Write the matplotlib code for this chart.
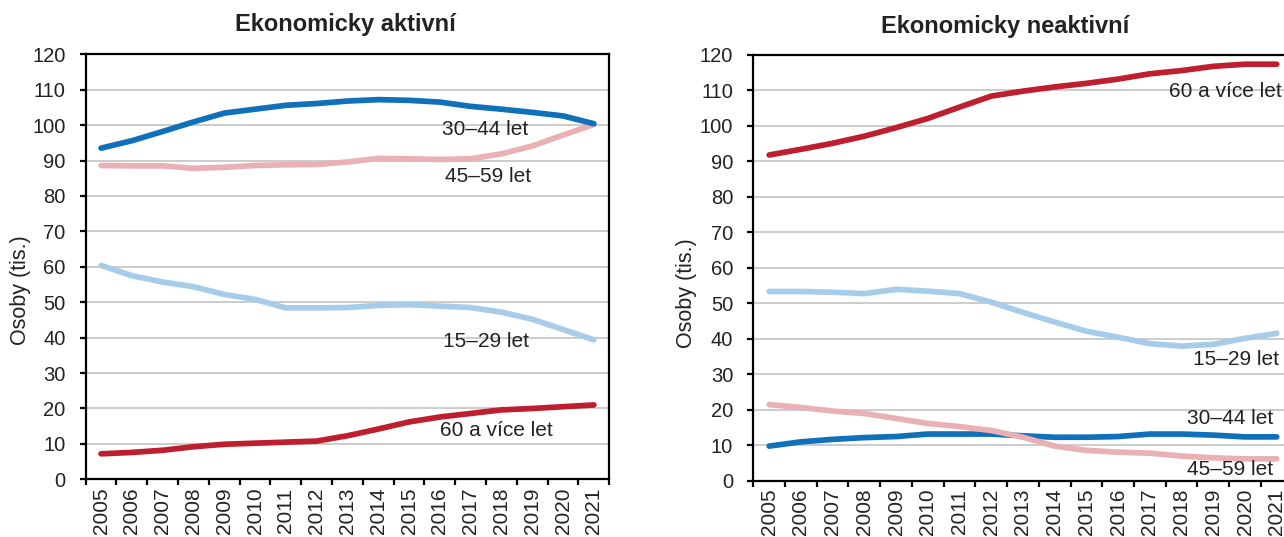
import numpy as np
import matplotlib
matplotlib.use('Agg')
import matplotlib.pyplot as plt

plt.rcParams['font.family'] = ['Liberation Sans', 'DejaVu Sans']

# Data (tis. osob)
years = [str(y) for y in range(2005, 2022)]

# Ekonomicky aktivni
act_15_29 = [60.4, 57.5, 55.7, 54.4, 52.2, 50.8, 48.4, 48.4, 48.5, 49.1, 49.3, 48.9, 48.5, 47.2, 45.2, 42.3, 39.4]
act_30_44 = [93.5, 95.6, 98.2, 100.9, 103.4, 104.5, 105.6, 106.1, 106.8, 107.2, 107.0, 106.5, 105.3, 104.5, 103.6, 102.6, 100.4]
act_45_59 = [88.6, 88.5, 88.5, 87.8, 88.1, 88.6, 88.8, 88.9, 89.6, 90.6, 90.5, 90.3, 90.5, 91.9, 94.1, 97.2, 100.2]
act_60 = [7.2, 7.6, 8.2, 9.2, 9.9, 10.2, 10.5, 10.8, 12.3, 14.2, 16.2, 17.6, 18.6, 19.6, 20.0, 20.5, 21.0]

# Ekonomicky neaktivni
ina_15_29 = [53.3, 53.3, 53.1, 52.7, 53.9, 53.4, 52.7, 50.3, 47.4, 44.7, 42.1, 40.4, 38.6, 37.9, 38.4, 40.1, 41.5]
ina_30_44 = [9.7, 10.9, 11.6, 12.1, 12.4, 13.1, 13.1, 13.1, 12.6, 12.2, 12.2, 12.4, 13.1, 13.1, 12.8, 12.3, 12.3]
ina_45_59 = [21.4, 20.6, 19.6, 18.9, 17.5, 16.1, 15.2, 14.1, 12.2, 9.7, 8.5, 8.0, 7.7, 6.9, 6.4, 6.1, 6.1]
ina_60 = [91.8, 93.4, 95.1, 97.1, 99.5, 102.1, 105.3, 108.4, 109.8, 111.0, 112.0, 113.2, 114.7, 115.6, 116.8, 117.4, 117.4]

c_dark_blue = '#1170BA'
c_light_blue = '#A7CCE9'
c_pink = '#E9B1B4'
c_red = '#BE1E2D'
txt = '#222222'

fig = plt.figure(figsize=(12.84, 5.37), dpi=100)
ax1 = fig.add_axes([0.0667, 0.1074, 0.4078, 0.7915])
ax2 = fig.add_axes([0.5867, 0.1052, 0.4200, 0.7924])

x = np.arange(len(years))


def style_axis(ax):
    ax.set_xlim(-0.5, len(years) - 0.5)
    ax.set_ylim(0, 120)
    ax.set_yticks(np.arange(0, 121, 10))
    ax.yaxis.grid(True, color='#C8C8C8', linewidth=1.3)
    ax.set_axisbelow(True)
    ax.set_xticks(x)
    ax.set_xticklabels(years, rotation=90, fontsize=15, color=txt)
    # tick marks sit between the years
    ax.set_xticks(np.arange(-0.5, len(years), 1), minor=True)
    ax.tick_params(axis='x', which='major', length=0, pad=6)
    ax.tick_params(axis='x', which='minor', length=4.5, width=1.6, direction='out')
    ax.tick_params(axis='y', length=4.5, width=1.6, direction='out', pad=10, labelsize=14.5, labelcolor=txt)
    for s in ax.spines.values():
        s.set_linewidth(1.6)
        s.set_color('black')
    ax.set_ylabel('Osoby (tis.)', fontsize=15.5, color=txt)


lw = 4.1

# Left chart - ekonomicky aktivni
ax1.plot(x, act_45_59, color=c_pink, lw=lw, solid_capstyle='round')
ax1.plot(x, act_15_29, color=c_light_blue, lw=lw, solid_capstyle='round')
ax1.plot(x, act_60, color=c_red, lw=lw, solid_capstyle='round')
ax1.plot(x, act_30_44, color=c_dark_blue, lw=lw, solid_capstyle='round')
style_axis(ax1)
ax1.yaxis.set_label_coords(-0.104, 0.445)
ax1.text(12.46, 98.8, '30–44 let', fontsize=15, color=txt, ha='center', va='center')
ax1.text(12.56, 85.4, '45–59 let', fontsize=15, color=txt, ha='center', va='center')
ax1.text(12.49, 38.9, '15–29 let', fontsize=15, color=txt, ha='center', va='center')
ax1.text(12.82, 13.75, '60 a více let', fontsize=15, color=txt, ha='center', va='center')

# Right chart - ekonomicky neaktivni
ax2.plot(x, ina_15_29, color=c_light_blue, lw=lw, solid_capstyle='round')
ax2.plot(x, ina_30_44, color=c_dark_blue, lw=lw, solid_capstyle='round')
ax2.plot(x, ina_45_59, color=c_pink, lw=lw, solid_capstyle='round')
ax2.plot(x, ina_60, color=c_red, lw=lw, solid_capstyle='round')
style_axis(ax2)
ax2.yaxis.set_label_coords(-0.105, 0.441)
ax2.text(16.17, 109.7, '60 a více let', fontsize=15, color=txt, ha='right', va='center')
ax2.text(16.08, 34.1, '15–29 let', fontsize=15, color=txt, ha='right', va='center')
ax2.text(15.9, 17.5, '30–44 let', fontsize=15, color=txt, ha='right', va='center')
ax2.text(15.9, 3.0, '45–59 let', fontsize=15, color=txt, ha='right', va='center')

# Titles
fig.text(345 / 1284, 1 - 25 / 537, 'Ekonomicky aktivní', fontsize=17, fontweight='bold',
         color=txt, ha='center', va='center')
fig.text(1005 / 1284, 1 - 27 / 537, 'Ekonomicky neaktivní', fontsize=17, fontweight='bold',
         color=txt, ha='center', va='center')

fig.savefig('out.png', dpi=100)
